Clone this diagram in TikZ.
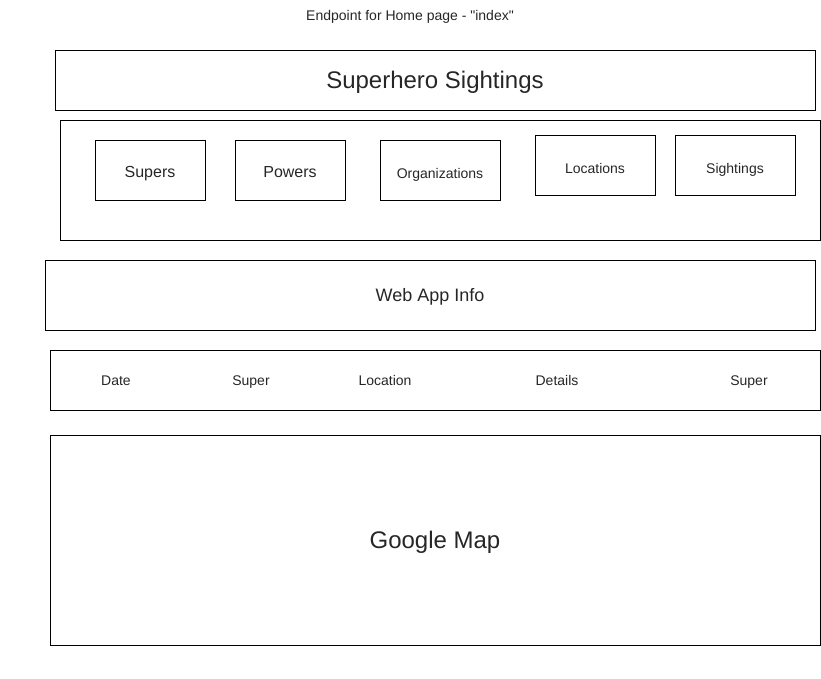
\documentclass[tikz,border=0pt]{standalone}
\usepackage{fontspec}
\setmainfont{Liberation Sans}[Ligatures=TeXOff]
\begin{document}
\begin{tikzpicture}[x=1pt,y=-1pt,
  box/.style={draw,line width=0.8pt},
  lbl/.style={inner sep=0pt,anchor=base,text=black!85},
  btn/.style={draw,line width=0.8pt,minimum width=110pt,minimum height=60pt},
  sbtn/.style={draw,line width=0.8pt,minimum width=120pt,minimum height=60pt},
  fa/.style={font=\fontsize{14}{16}\selectfont},
  fb/.style={font=\fontsize{16}{19}\selectfont},
  fc/.style={font=\fontsize{24}{28}\selectfont}]
\useasboundingbox (0,0) rectangle (821,678);
\node[lbl,fa] (t) at (410,20) {Endpoint for Home page - "index"};
\draw[box] (55,50) rectangle (815,110);
\node[lbl,fc] (ss) at (435,88.6) {Superhero Sightings};
\draw[box] (60,120) rectangle (820,240);
\node[btn] (supers) at (150,170) {};
\node[lbl,fb] at (150,177.7) {Supers};
\node[btn] (powers) at (290,170) {};
\node[lbl,fb] at (290,177.7) {Powers};
\node[sbtn] (org) at (440,170) {};
\node[lbl,fa] at (440,178) {Organizations};
\node[sbtn] (loc) at (595,165) {};
\node[lbl,fa] at (595,173) {Locations};
\node[sbtn] (sig) at (735,165) {};
\node[lbl,fa] at (735,173) {Sightings};
\draw[box] (45,260) rectangle (815,330);
\node[lbl,font=\fontsize{18}{21}\selectfont] (wai) at (430,301.4) {Web App Info};
\draw[box] (50,350) rectangle (820,410);
\node[lbl,fa] (d) at (116,385) {Date};
\node[lbl,fa] (s1) at (251,385) {Super};
\node[lbl,fa] (l) at (385,385) {Location};
\node[lbl,fa] (de) at (557,385) {Details};
\node[lbl,fa] (s2) at (749,385) {Super};
\draw[box] (50,435) rectangle (820,645);
\node[lbl,fc] (gm) at (435,548.6) {Google Map};
\end{tikzpicture}
\end{document}
